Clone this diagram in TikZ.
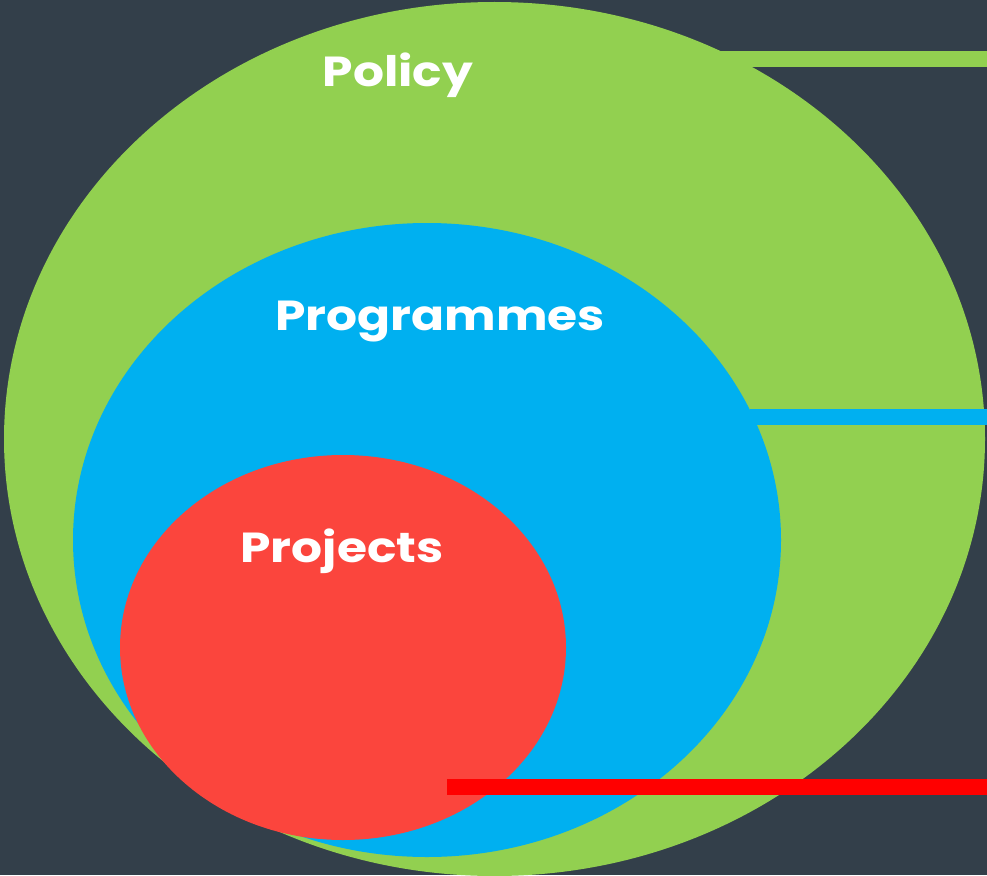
\documentclass[tikz,border=0pt]{standalone}
\usepackage{fontspec}
\newfontfamily\lblfont{Poppins Bold}[FakeStretch=1.16]
\definecolor{bg}{HTML}{333F4A}
\definecolor{pgreen}{HTML}{92D050}
\definecolor{pblue}{HTML}{00B0F0}
\definecolor{pred}{HTML}{FB453D}
\definecolor{barred}{HTML}{FF0000}
\tikzset{
  lbl/.style={text=white, font=\lblfont\fontsize{42}{48}\selectfont, inner sep=0pt, anchor=base},
}
\begin{document}
\begin{tikzpicture}[x=1pt,y=-1pt]
\fill[bg] (0,0) rectangle (987,875);
\useasboundingbox (0,0) rectangle (987,875);
\fill[pgreen] (494.5,439) ellipse [x radius=490.5, y radius=437];
\fill[pgreen] (720,51) rectangle (987,67);
\fill[pblue] (427,540) ellipse [x radius=354, y radius=317];
\fill[pblue] (750,409) rectangle (987,425);
\fill[pred] (343,647.5) ellipse [x radius=223, y radius=192.5];
\fill[barred] (447,779) rectangle (987,795);
\node[lbl] (policy) at (398,86) {Policy};
\node[lbl] (prog) at (440,330) {Programmes};
\node[lbl] (proj) at (342,562) {Projects};
\end{tikzpicture}
\end{document}
